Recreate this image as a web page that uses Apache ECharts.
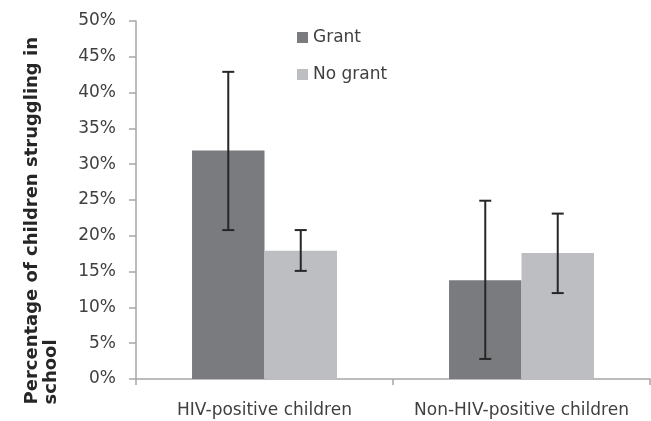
<!DOCTYPE html>
<html>
<head>
<meta charset="utf-8">
<script src="https://cdn.jsdelivr.net/npm/echarts@6/dist/echarts.min.js"></script>
<style>
  html, body { margin: 0; padding: 0; background: #fff; }
  #main { width: 651px; height: 421px; }
</style>
</head>
<body>
<div id="main"></div>
<script>
// data
const categories = ['HIV-positive children', 'Non-HIV-positive children'];
const grant = [31.9, 13.8];
const grantLow = [20.8, 2.8];
const grantHigh = [42.9, 24.9];
const noGrant = [17.9, 17.6];
const noGrantLow = [15.1, 12.0];
const noGrantHigh = [20.8, 23.1];
const yTicks = [0, 5, 10, 15, 20, 25, 30, 35, 40, 45, 50];

const GAP = 0.436;
const FONT = 'Verdana, "DejaVu Sans", sans-serif';

function errorSeries(name, low, high, side) {
  return {
    name: name,
    type: 'custom',
    z: 10,
    silent: true,
    encode: { x: 0, y: [1, 2] },
    data: low.map(function (v, i) { return [i, v, high[i]]; }),
    renderItem: function (params, api) {
      const band = api.size([1, 0])[0];
      const barW = band * (1 - GAP) / 2;
      const off = side * barW / 2;
      const lo = api.coord([api.value(0), api.value(1)]);
      const hi = api.coord([api.value(0), api.value(2)]);
      const x = lo[0] + off;
      const cap = 6;
      const style = { stroke: '#262626', lineWidth: 2 };
      return {
        type: 'group',
        children: [
          { type: 'line', shape: { x1: x, y1: lo[1], x2: x, y2: hi[1] }, style: style },
          { type: 'line', shape: { x1: x - cap, y1: lo[1], x2: x + cap, y2: lo[1] }, style: style },
          { type: 'line', shape: { x1: x - cap, y1: hi[1], x2: x + cap, y2: hi[1] }, style: style }
        ]
      };
    }
  };
}

const chart = echarts.init(document.getElementById('main'));
chart.setOption({
  backgroundColor: '#fff',
  animation: false,
  grid: { left: 136, right: 1, top: 21, bottom: 42 },
  legend: {
    data: ['Grant', 'No grant'],
    orient: 'vertical',
    left: 297,
    top: 29,
    padding: 0,
    itemWidth: 11,
    itemHeight: 11,
    itemGap: 20,
    icon: 'rect',
    textStyle: { fontFamily: FONT, fontSize: 17, color: '#404040' }
  },
  xAxis: {
    type: 'category',
    data: categories,
    axisLine: { lineStyle: { color: '#a6a6a6', width: 1.5 } },
    axisTick: { show: true, length: 6, lineStyle: { color: '#a6a6a6', width: 1.5 } },
    axisLabel: { interval: 0, fontFamily: FONT, fontSize: 17, color: '#404040', margin: 23 }
  },
  yAxis: {
    type: 'value',
    min: 0,
    max: 50,
    interval: 5,
    axisLine: { show: true, lineStyle: { color: '#a6a6a6', width: 1.5 } },
    axisTick: { show: true, length: 7, lineStyle: { color: '#a6a6a6', width: 1.5 } },
    splitLine: { show: false },
    axisLabel: {
      fontFamily: FONT, fontSize: 17, color: '#404040', margin: 20,
      formatter: function (v) { return yTicks.indexOf(v) >= 0 ? v + '%' : ''; }
    }
  },
  graphic: [{
    type: 'text',
    left: 23,
    top: 37,
    rotation: Math.PI / 2,
    style: {
      text: 'Percentage of children struggling in\nschool',
      fontFamily: FONT,
      fontWeight: 'bold',
      fontSize: 18,
      fill: '#262626',
      align: 'center',
      lineHeight: 19
    }
  }],
  series: [
    {
      name: 'Grant', type: 'bar', data: grant, barGap: '0%', barCategoryGap: (GAP * 100) + '%',
      itemStyle: { color: '#7a7b7f' }
    },
    {
      name: 'No grant', type: 'bar', data: noGrant, barGap: '0%', barCategoryGap: (GAP * 100) + '%',
      itemStyle: { color: '#bdbec2' }
    },
    errorSeries('Grant err', grantLow, grantHigh, -1),
    errorSeries('No grant err', noGrantLow, noGrantHigh, 1)
  ]
});
</script>
</body>
</html>
